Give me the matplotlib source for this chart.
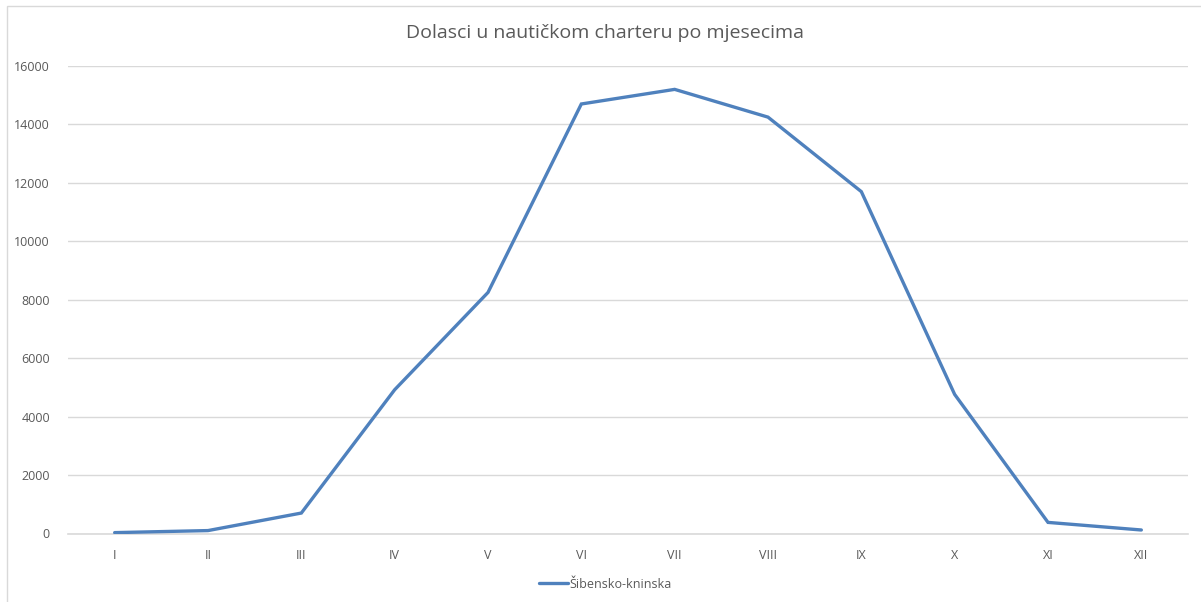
#!/usr/bin/env python3
"""Monthly arrivals in nautical charter, Excel-style line chart."""
import matplotlib
matplotlib.use("Agg")
import matplotlib.pyplot as plt
from matplotlib.patches import Rectangle

months = ["I", "II", "III", "IV", "V", "VI", "VII", "VIII", "IX", "X", "XI", "XII"]
arrivals = [30, 100, 700, 4920, 8250, 14700, 15200, 14250, 11700, 4760, 380, 120]
series_name = "Šibensko-kninska"
title = "Dolasci u nautičkom charteru po mjesecima"
yticks = [0, 2000, 4000, 6000, 8000, 10000, 12000, 14000, 16000]

W, H = 1201, 602
plt.rcParams["font.family"] = ["Open Sans", "DejaVu Sans"]
grey = "#595959"

fig = plt.figure(figsize=(W / 100, H / 100), dpi=100)
ax = fig.add_axes([68 / W, 1 - 533.5 / H, (1188 - 68) / W, (533.5 - 66) / H])

x = list(range(len(months)))
ax.plot(x, arrivals, color="#4F81BD", lw=2.4, solid_joinstyle="miter",
        solid_capstyle="round", label=series_name, zorder=3)

ax.set_xlim(-0.5, len(months) - 0.5)
ax.set_ylim(0, 16000)
ax.set_xticks(x)
ax.set_xticklabels(months)
ax.set_yticks(yticks)
ax.set_yticklabels([str(v) for v in yticks])
ax.tick_params(length=0, colors=grey, labelsize=9)
ax.tick_params(axis="x", pad=11)
ax.tick_params(axis="y", pad=13)
ax.grid(axis="y", color="#D9D9D9", lw=1)
ax.axhline(0, color="#D9D9D9", lw=1.2, clip_on=False, zorder=1)
ax.set_axisbelow(True)
for s in ax.spines.values():
    s.set_visible(False)

fig.text(605 / W, 1 - 33 / H, title, ha="center", va="center",
         fontsize=14, color=grey)

fig.legend(loc="center", bbox_to_anchor=(605 / W, 1 - 584 / H), frameon=False,
           fontsize=9, labelcolor=grey, handlelength=2.3, handletextpad=0.1)

# chart area border (only top/left visible in the crop)
fig.patches.append(Rectangle((7 / W, -0.1), 1.2, 1 - 6 / H + 0.1,
                             transform=fig.transFigure, fill=False,
                             edgecolor="#D9D9D9", lw=1))

fig.savefig("out.png", dpi=100)
plt.close(fig)
